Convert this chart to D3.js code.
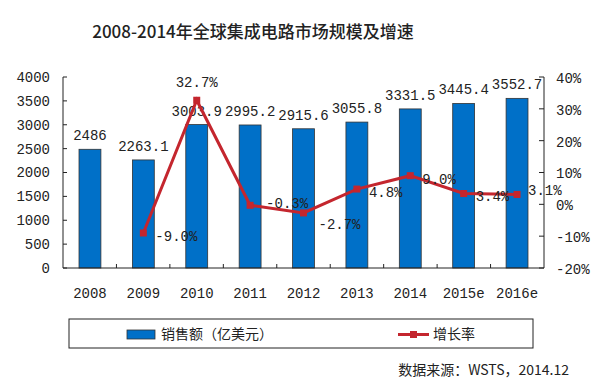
<!DOCTYPE html>
<html>
<head>
<meta charset="utf-8">
<script src="https://cdn.jsdelivr.net/npm/d3@7"></script>
<style>
  body { margin: 0; background: #fff; }
  text { fill: #222; }
  .num { font-family: "Liberation Mono", monospace; font-size: 14px; }
  .cjk { font-family: "Noto Sans CJK SC", sans-serif; }
</style>
</head>
<body>
<div id="chart"></div>
<script>
const width = 600;
const height = 386;
const margin = { top: 77, right: 56, bottom: 118, left: 63 };

const years = ["2008", "2009", "2010", "2011", "2012", "2013", "2014", "2015e", "2016e"];
const sales = [2486, 2263.1, 3003.9, 2995.2, 2915.6, 3055.8, 3331.5, 3445.4, 3552.7];
const growth = [null, -9.0, 32.7, -0.3, -2.7, 4.8, 9.0, 3.4, 3.1];
const growthLabelSide = [null, "right", "above", "rightUp", "rightDown", "right", "right", "right", "rightLast"];
const salesTicks = [0, 500, 1000, 1500, 2000, 2500, 3000, 3500, 4000];
const growthTicks = [-20, -10, 0, 10, 20, 30, 40];

const barColor = "#0070c8";
const lineColor = "#c4262e";

const svg = d3.select("#chart")
    .append("svg")
    .attr("width", width)
    .attr("height", height);

const x0 = margin.left, x1 = width - margin.right;
const yBottom = height - margin.bottom;

const x = d3.scaleBand().domain(years).range([x0, x1]).paddingInner(0.59).paddingOuter(0.3);
const y = d3.scaleLinear().domain([0, 4000]).range([yBottom, margin.top]);
const y2 = d3.scaleLinear().domain([-20, 40]).range([yBottom, margin.top]);
const step = (x1 - x0) / years.length;

// title
svg.append("text")
    .attr("class", "cjk")
    .attr("x", 253)
    .attr("y", 38)
    .attr("text-anchor", "middle")
    .style("font-size", "17px")
    .style("font-weight", "500")
    .text("2008-2014年全球集成电路市场规模及增速");

// bars
svg.append("g")
    .selectAll("rect")
    .data(sales)
    .enter().append("rect")
    .attr("x", (d, i) => x(years[i]))
    .attr("y", d => y(d))
    .attr("width", x.bandwidth())
    .attr("height", d => yBottom - y(d))
    .attr("fill", barColor)
    .attr("stroke", "#333")
    .attr("stroke-width", 0.8);

// bar labels
svg.append("g")
    .selectAll("text")
    .data(sales)
    .enter().append("text")
    .attr("class", "num")
    .attr("x", (d, i) => x(years[i]) + x.bandwidth() / 2)
    .attr("y", d => y(d) - 9)
    .attr("text-anchor", "middle")
    .text(d => d);

// left axis
const left = svg.append("g").attr("transform", `translate(${x0},0)`);
left.append("line").attr("y1", margin.top).attr("y2", yBottom).attr("stroke", "#222");
left.selectAll(".t").data(salesTicks).enter().append("line")
    .attr("x1", 0).attr("x2", 4)
    .attr("y1", d => y(d)).attr("y2", d => y(d))
    .attr("stroke", "#222");
left.selectAll("text").data(salesTicks).enter().append("text")
    .attr("class", "num")
    .attr("x", -13)
    .attr("y", d => y(d))
    .attr("dy", "0.35em")
    .attr("text-anchor", "end")
    .text(d => d);

// right axis
const right = svg.append("g").attr("transform", `translate(${x1},0)`);
right.append("line").attr("y1", margin.top).attr("y2", yBottom).attr("stroke", "#222");
right.selectAll(".t").data(growthTicks).enter().append("line")
    .attr("x1", -5).attr("x2", 0)
    .attr("y1", d => y2(d)).attr("y2", d => y2(d))
    .attr("stroke", "#222");
right.selectAll("text").data(growthTicks).enter().append("text")
    .attr("class", "num")
    .attr("x", 12)
    .attr("y", d => y2(d) + 1)
    .attr("dy", "0.35em")
    .text(d => d + "%");

// x axis
const bottom = svg.append("g");
bottom.append("line")
    .attr("x1", x0).attr("x2", x1)
    .attr("y1", yBottom).attr("y2", yBottom)
    .attr("stroke", "#222");
bottom.selectAll(".t").data(years.slice(1)).enter().append("line")
    .attr("x1", (d, i) => x0 + step * (i + 1))
    .attr("x2", (d, i) => x0 + step * (i + 1))
    .attr("y1", yBottom).attr("y2", yBottom - 4)
    .attr("stroke", "#222");
bottom.selectAll("text").data(years).enter().append("text")
    .attr("class", "num")
    .attr("x", d => x(d) + x.bandwidth() / 2)
    .attr("y", yBottom + 30)
    .attr("text-anchor", "middle")
    .text(d => d);

// growth line
const pts = growth.map((g, i) => ({ year: years[i], g: g, side: growthLabelSide[i] })).filter(d => d.g !== null);
const cx = d => x(d.year) + x.bandwidth() / 2;

svg.append("path")
    .datum(pts)
    .attr("fill", "none")
    .attr("stroke", lineColor)
    .attr("stroke-width", 3)
    .attr("d", d3.line().x(cx).y(d => y2(d.g)));

svg.append("g")
    .selectAll("rect")
    .data(pts)
    .enter().append("rect")
    .attr("x", d => cx(d) - 3.5)
    .attr("y", d => y2(d.g) - 3.5)
    .attr("width", 7)
    .attr("height", 7)
    .attr("fill", lineColor);

const offsets = {
    right: [12, 3, "start"],
    rightLast: [11, -4, "start"],
    above: [0, -18, "middle"],
    rightUp: [16, -2, "start"],
    rightDown: [15, 11, "start"]
};
svg.append("g")
    .selectAll("text")
    .data(pts)
    .enter().append("text")
    .attr("class", "num")
    .attr("x", d => cx(d) + offsets[d.side][0])
    .attr("y", d => y2(d.g) + offsets[d.side][1])
    .attr("dy", "0.35em")
    .attr("text-anchor", d => offsets[d.side][2])
    .text(d => d.g.toFixed(1) + "%");

// legend
const legend = svg.append("g");
legend.append("rect")
    .attr("x", 69).attr("y", 319)
    .attr("width", 464).attr("height", 29)
    .attr("fill", "#fff")
    .attr("stroke", "#222");
legend.append("rect")
    .attr("x", 127).attr("y", 330)
    .attr("width", 28).attr("height", 9)
    .attr("fill", barColor)
    .attr("stroke", "#333")
    .attr("stroke-width", 0.8);
legend.append("text")
    .attr("class", "cjk")
    .attr("x", 161).attr("y", 334.5)
    .attr("dy", "0.35em")
    .style("font-size", "14px")
    .text("销售额（亿美元）");
legend.append("line")
    .attr("x1", 398).attr("x2", 429)
    .attr("y1", 334.5).attr("y2", 334.5)
    .attr("stroke", lineColor)
    .attr("stroke-width", 3);
legend.append("rect")
    .attr("x", 410).attr("y", 331)
    .attr("width", 7).attr("height", 7)
    .attr("fill", lineColor);
legend.append("text")
    .attr("class", "cjk")
    .attr("x", 433).attr("y", 334.5)
    .attr("dy", "0.35em")
    .style("font-size", "14px")
    .text("增长率");

// source
svg.append("text")
    .attr("class", "cjk")
    .attr("x", 569).attr("y", 370)
    .attr("dy", "0.35em")
    .attr("text-anchor", "end")
    .style("font-size", "14px")
    .text("数据来源：WSTS，2014.12");
</script>
</body>
</html>
